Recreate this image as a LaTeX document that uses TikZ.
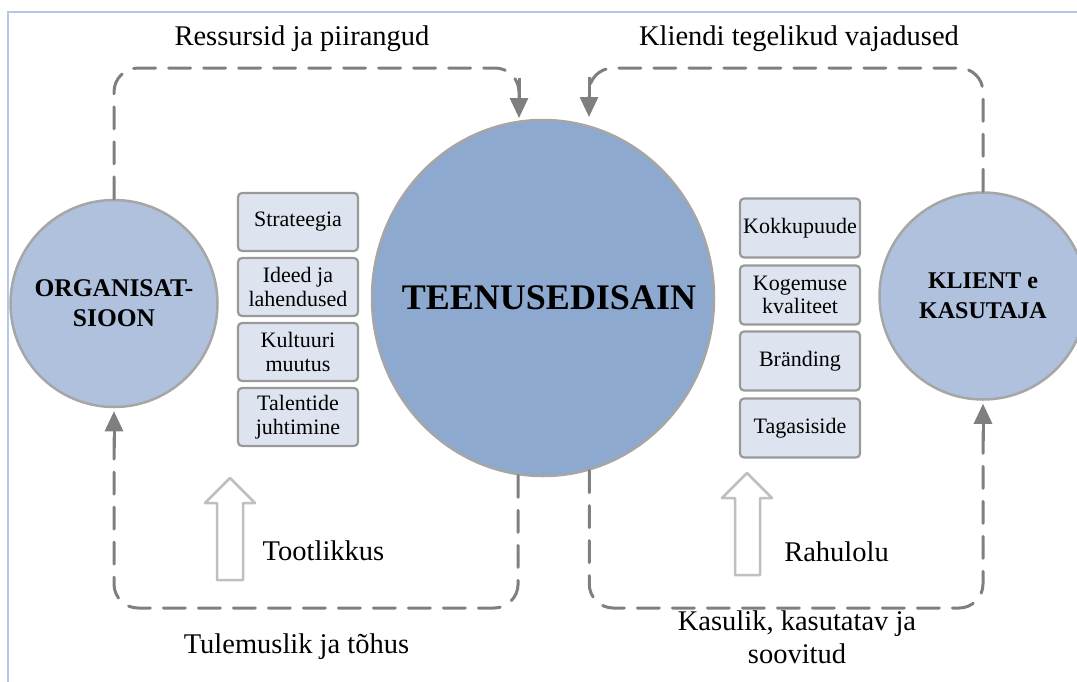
\documentclass[tikz,border=0pt]{standalone}
\usepackage{fontspec}
\setmainfont{Liberation Serif}
\usetikzlibrary{arrows.meta,shapes.geometric,calc}
\definecolor{framecol}{HTML}{B4C7E7}
\definecolor{flowcol}{HTML}{7F7F7F}
\definecolor{rimcol}{HTML}{A6A6A6}
\definecolor{corefill}{HTML}{8EA9CF}
\definecolor{sidefill}{HTML}{AFC1DD}
\definecolor{boxfill}{HTML}{DEE4EF}
\definecolor{boxrim}{HTML}{999999}
\definecolor{hollowrim}{HTML}{BFBFBF}
\begin{document}
\begin{tikzpicture}[x=1pt,y=-1pt,
  frame/.style={draw=framecol, line width=1.5pt},
  flow/.style={draw=flowcol, line width=3pt, dash pattern=on 22pt off 13pt,
    rounded corners=24pt, line cap=round, shorten >=8pt},
  tipline/.style={draw=flowcol, line width=3pt, -{Triangle[length=20pt,width=18pt]}},
  side/.style={circle, fill=sidefill, draw=rimcol, line width=2.5pt,
    minimum size=207pt, inner sep=0pt, align=center,
    font=\fontsize{24}{30}\selectfont\bfseries},
  core/.style={ellipse, fill=corefill, draw=rimcol, line width=2.5pt,
    minimum width=342pt, minimum height=356pt, inner sep=0pt},
  item/.style={rectangle, rounded corners=4pt, fill=boxfill, draw=boxrim,
    line width=2.2pt, minimum width=120pt, minimum height=58pt, inner sep=2pt,
    align=center, font=\fontsize{22}{23.5}\selectfont},
  lbl/.style={font=\fontsize{28.5}{33}\selectfont, inner sep=0pt, anchor=base},
  hollow/.style={draw=hollowrim, fill=white, line width=2.5pt, line join=round}]

\useasboundingbox (0,0) rectangle (1077,681);

% thin page frame along the top and left
\draw[frame] (1085,12) -- (8,12) -- (8,690);

% main actors
\node[side, font=\fontsize{25.5}{30}\selectfont\bfseries] (org) at (114,303.5) {ORGANISAT-\\SIOON};
\node[side] (cli) at (983,296) {KLIENT e\\KASUTAJA};
\node[core] (design) at (543,298) {};
\node[font=\fontsize{36}{36}\selectfont\bfseries, inner sep=0pt] (designtxt) at (549,298) {TEENUSEDISAIN};

% helper levels and arrow ends
\coordinate (topY) at (0,68);
\coordinate (lowY) at (0,608);
\coordinate (tipA) at (519,118);
\coordinate (tipB) at (589,117);

% feedback loops
\draw[flow] (org.north) |- (tipA |- topY) -- (tipA);
\draw[tipline] ($(tipA)+(0,-40)$) -- (tipA);
\draw[flow] (cli.north) |- (tipB |- topY) -- (tipB);
\draw[tipline] ($(tipB)+(0,-40)$) -- (tipB);
\draw[flow] (design.262.6) |- (org.south |- lowY) -- (org.south);
\draw[tipline] ($(org.south)+(0,40)$) -- ($(org.south)+(0,3)$);
\draw[flow] (design.285.4) |- (cli.south |- lowY) -- (cli.south);
\draw[tipline] ($(cli.south)+(0,40)$) -- ($(cli.south)+(0,3)$);

% organisation side topics
\node[item] (s1) at (298,222) {Strateegia};
\node[item] (s2) at (298,287) {Ideed ja\\lahendused};
\node[item] (s3) at (298,352) {Kultuuri\\muutus};
\node[item] (s4) at (298,417) {Talentide\\juhtimine};

% client side topics
\node[item, minimum height=59pt] (c1) at (800,228) {Kokkupuude};
\node[item, minimum height=59pt] (c2) at (800,295) {Kogemuse\\kvaliteet};
\node[item, minimum height=59pt] (c3) at (800,361) {Bränding};
\node[item, minimum height=59pt] (c4) at (800,428) {Tagasiside};

% hollow upward arrows
\draw[hollow] (230,478) -- (255,503) -- (243,503) -- (243,580) -- (217,580)
  -- (217,503) -- (205,503) -- cycle;
\draw[hollow] (747,473) -- (772,498) -- (760,498) -- (760,575) -- (735,575)
  -- (735,498) -- (722,498) -- cycle;

% labels
\node[lbl] (res) at (302,45) {Ressursid ja piirangud};
\node[lbl] (need) at (799,45) {Kliendi tegelikud vajadused};
\node[lbl] (prod) at (323.5,560) {Tootlikkus};
\node[lbl] (sat) at (836.5,561) {Rahulolu};
\node[lbl] (eff) at (296.5,653) {Tulemuslik ja tõhus};
\node[lbl] (use1) at (797,630) {Kasulik, kasutatav ja};
\node[lbl] (use2) at (797,663) {soovitud};
\end{tikzpicture}
\end{document}
